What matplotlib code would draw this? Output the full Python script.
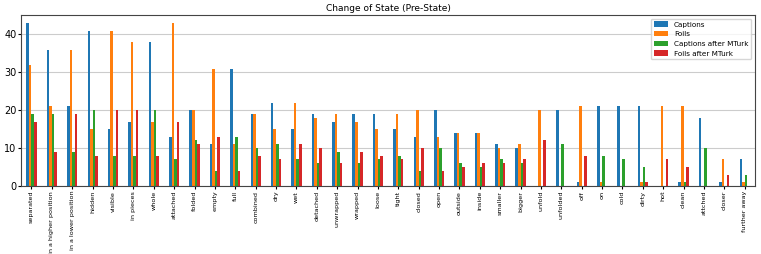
import numpy as np
import pandas as pd
import matplotlib
matplotlib.use('Agg')
import matplotlib.pyplot as plt

# 类别（状态词）
labels = ['separated', 'in a higher position', 'in a lower position', 'hidden', 'visible',
          'in pieces', 'whole', 'attached', 'folded', 'empty', 'full', 'combined', 'dry',
          'wet', 'detached', 'unwrapped', 'wrapped', 'loose', 'tight', 'closed', 'open',
          'outside', 'inside', 'smaller', 'bigger', 'unfold', 'unfolded', 'off', 'on',
          'cold', 'dirty', 'hot', 'clean', 'attched', 'closer', 'further away']

captions = [43, 36, 21, 41, 15, 17, 38, 13, 20, 11, 31, 19, 22, 15, 19, 17, 19, 19,
            15, 13, 20, 14, 14, 11, 10, 0, 20, 1, 21, 21, 21, 0, 1, 18, 1, 7]
foils = [32, 21, 36, 15, 41, 38, 17, 43, 20, 31, 11, 19, 15, 22, 18, 19, 17, 15,
         19, 20, 13, 14, 14, 10, 11, 20, 0, 21, 1, 0, 1, 21, 21, 0, 7, 1]
captions_mturk = [19, 19, 9, 20, 8, 8, 20, 7, 12, 4, 13, 10, 11, 7, 6, 9, 6, 7,
                  8, 4, 10, 6, 5, 7, 6, 0, 11, 0, 8, 7, 5, 0, 1, 10, 0, 3]
foils_mturk = [17, 9, 19, 8, 20, 20, 8, 17, 11, 13, 4, 8, 7, 11, 10, 6, 9, 8,
               7, 10, 4, 5, 6, 6, 7, 12, 0, 8, 0, 0, 1, 7, 5, 0, 3, 0]

df = pd.DataFrame({'Captions': captions,
                   'Foils': foils,
                   'Captions after MTurk': captions_mturk,
                   'Foils after MTurk': foils_mturk}, index=labels)

fig = plt.figure(figsize=(7.61, 2.54), dpi=100)
ax = fig.add_axes([0.028, 0.268, 0.964, 0.673])

df.plot(kind='bar', ax=ax, fontsize=6)
ax.set_axisbelow(True)
ax.yaxis.grid(True, color='#cccccc', linewidth=0.8)
ax.set_title('Change of State (Pre-State)', fontsize=6.5, pad=3)
ax.tick_params(axis='x', labelsize=4.6, length=2, pad=1.5)
ax.tick_params(axis='y', labelsize=7, length=2, pad=1.5)
ax.legend(fontsize=5.2, loc='upper right')
for s in ax.spines.values():
    s.set_color('#444444')

fig.savefig('out.png', dpi=100)
